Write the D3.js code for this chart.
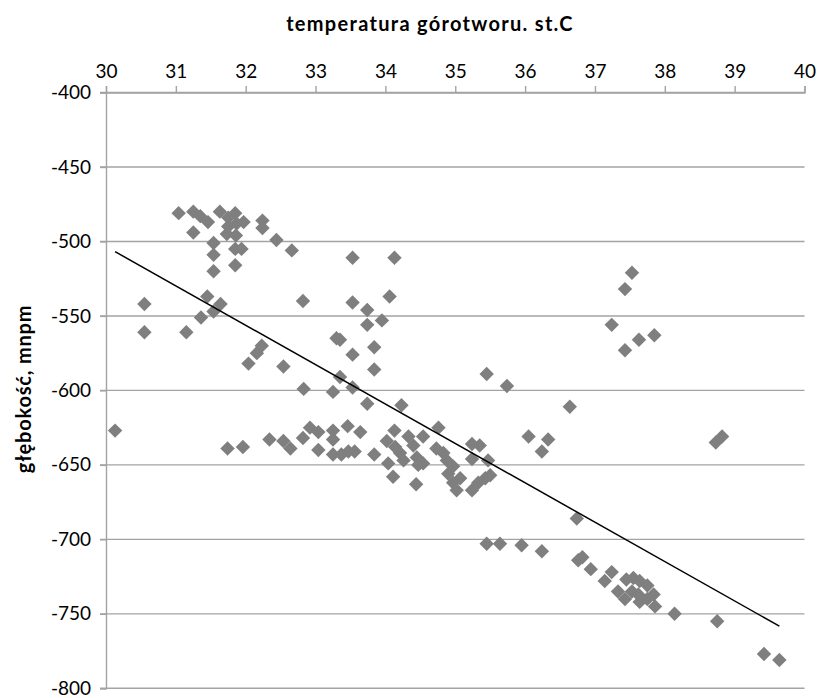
<!DOCTYPE html>
<html>
<head>
<meta charset="utf-8">
<script src="https://cdn.jsdelivr.net/npm/d3@7"></script>
<style>
  body { margin: 0; background: #fff; }
  text { font-family: Lato, "Open Sans", sans-serif; fill: #000; }
</style>
</head>
<body>
<svg width="820" height="698"></svg>
<script>
// temperatura gorotworu [st.C] vs glebokosc [m n.p.m.]
const tempC = [
  31.04, 31.25, 31.35, 31.46, 31.25, 31.63, 31.85, 31.75, 31.97, 31.87,
  31.75, 31.73, 31.86, 32.24, 32.24, 32.44, 32.66, 31.54, 31.54, 31.54,
  31.85, 31.94, 31.85, 30.55, 30.55, 31.15, 31.45, 31.64, 31.54, 31.36,
  32.82, 33.30, 32.04, 32.16, 32.23, 32.54, 32.83, 33.25, 30.13, 31.74,
  31.96, 32.34, 32.54, 32.64, 32.82, 32.92, 33.04, 33.04, 33.25, 33.25,
  33.25, 33.53, 34.13, 33.53, 34.06, 33.74, 33.74, 33.95, 33.35, 33.53,
  33.84, 33.84, 33.35, 33.53, 33.74, 34.23, 35.45, 35.74, 34.76, 33.46,
  33.47, 33.56, 33.37, 33.64, 33.84, 34.13, 34.02, 34.04, 34.11, 34.14,
  34.21, 34.33, 34.40, 34.26, 34.45, 34.54, 34.47, 34.54, 34.44, 34.73,
  34.83, 34.88, 34.97, 34.90, 34.97, 35.07, 35.02, 35.24, 35.35, 35.24,
  35.47, 35.24, 35.33, 35.43, 35.50, 36.64, 36.05, 36.33, 36.24, 36.74,
  35.45, 35.64, 35.95, 36.24, 36.82, 37.53, 37.43, 37.24, 37.43, 37.63,
  37.85, 38.82, 38.73, 36.76, 36.94, 37.14, 37.24, 37.33, 37.43, 37.45,
  37.55, 37.64, 37.75, 37.53, 37.64, 37.62, 37.84, 37.86, 37.75, 38.14,
  38.75, 39.42, 39.64
];
const depthM = [
  -481, -480, -483, -487, -494, -480, -481, -484, -487, -488,
  -490, -495, -496, -486, -491, -499, -506, -501, -509, -520,
  -505, -505, -516, -542, -561, -561, -537, -542, -547, -551,
  -540, -565, -582, -575, -570, -584, -599, -601, -627, -639,
  -638, -633, -634, -639, -632, -625, -628, -640, -627, -633,
  -643, -511, -511, -541, -537, -546, -556, -553, -566, -576,
  -571, -586, -591, -598, -609, -610, -589, -597, -625, -624,
  -641, -641, -643, -628, -643, -627, -634, -649, -658, -638,
  -642, -631, -637, -647, -645, -631, -650, -649, -663, -639,
  -642, -647, -651, -656, -662, -659, -667, -636, -637, -646,
  -647, -667, -662, -659, -657, -611, -631, -633, -641, -686,
  -703, -703, -704, -708, -712, -521, -532, -556, -573, -566,
  -563, -631, -635, -714, -720, -728, -722, -735, -740, -727,
  -726, -728, -731, -735, -742, -737, -737, -745, -740, -750,
  -755, -777, -781
];
// linear trendline as shown on the chart: depth = slope * temp + intercept
const trendCoef = [-26.44, 289.8];

const xTicks = [30, 31, 32, 33, 34, 35, 36, 37, 38, 39, 40];
const yTicks = [-400, -450, -500, -550, -600, -650, -700, -750, -800];

const points = tempC.map((t, i) => ({ t: t, d: depthM[i] }));

const svg = d3.select('svg');
const plotLeft = 106, plotRight = 804.5, plotTop = 92.5, plotBottom = 688.3;

const x = d3.scaleLinear().domain([30, 40]).range([plotLeft, plotRight]);
const y = d3.scaleLinear().domain([-400, -800]).range([plotTop, plotBottom]);

// gridlines
svg.append('g')
  .selectAll('line')
  .data(yTicks)
  .enter().append('line')
    .attr('x1', plotLeft - 6)
    .attr('x2', plotRight)
    .attr('y1', d => y(d))
    .attr('y2', d => y(d))
    .attr('stroke', '#a3a3a3')
    .attr('stroke-width', 1.4);

// x axis on top
const xAxis = svg.append('g')
  .attr('transform', `translate(0,${plotTop})`)
  .call(d3.axisTop(x).tickValues(xTicks).tickSize(6.5).tickPadding(8).tickFormat(d3.format('d')));
xAxis.select('.domain').attr('stroke', '#a3a3a3').attr('stroke-width', 1.4);
xAxis.selectAll('.tick line').attr('stroke', '#a3a3a3').attr('stroke-width', 1.4);
xAxis.selectAll('.tick text').style('font-size', '19px').attr('fill', '#000');

// y axis
const yAxis = svg.append('g')
  .attr('transform', `translate(${plotLeft},0)`)
  .call(d3.axisLeft(y).tickValues(yTicks).tickSize(6).tickPadding(9).tickFormat(d3.format('d')));
yAxis.select('.domain').attr('stroke', '#a3a3a3').attr('stroke-width', 1.4);
yAxis.selectAll('.tick line').attr('stroke', '#a3a3a3').attr('stroke-width', 1.4);
yAxis.selectAll('.tick text').style('font-size', '19px').attr('fill', '#000');
svg.selectAll('.tick text').text(d => String(d).replace('\u2212', '-'));

// markers
svg.append('g')
  .selectAll('path')
  .data(points)
  .enter().append('path')
    .attr('d', d3.symbol().type(d3.symbolSquare).size(104))
    .attr('transform', d => `translate(${x(d.t)},${y(d.d)}) rotate(45)`)
    .attr('fill', '#7f7f7f');

// linear trend over the data range
const ext = d3.extent(tempC);
svg.append('line')
  .attr('x1', x(ext[0])).attr('y1', y(trendCoef[0] * ext[0] + trendCoef[1]))
  .attr('x2', x(ext[1])).attr('y2', y(trendCoef[0] * ext[1] + trendCoef[1]))
  .attr('stroke', '#000')
  .attr('stroke-width', 1.5);

// titles
svg.append('text')
  .attr('x', 430).attr('y', 31)
  .attr('text-anchor', 'middle')
  .style('font-size', '20px')
  .style('font-weight', 'bold')
  .style('letter-spacing', '1.3px')
  .text('temperatura górotworu. st.C');

svg.append('text')
  .attr('transform', 'translate(31,389) rotate(-90)')
  .attr('text-anchor', 'middle')
  .style('font-size', '20px')
  .style('font-weight', 'bold')
  .style('letter-spacing', '0.8px')
  .text('głębokość, mnpm');
</script>
</body>
</html>
